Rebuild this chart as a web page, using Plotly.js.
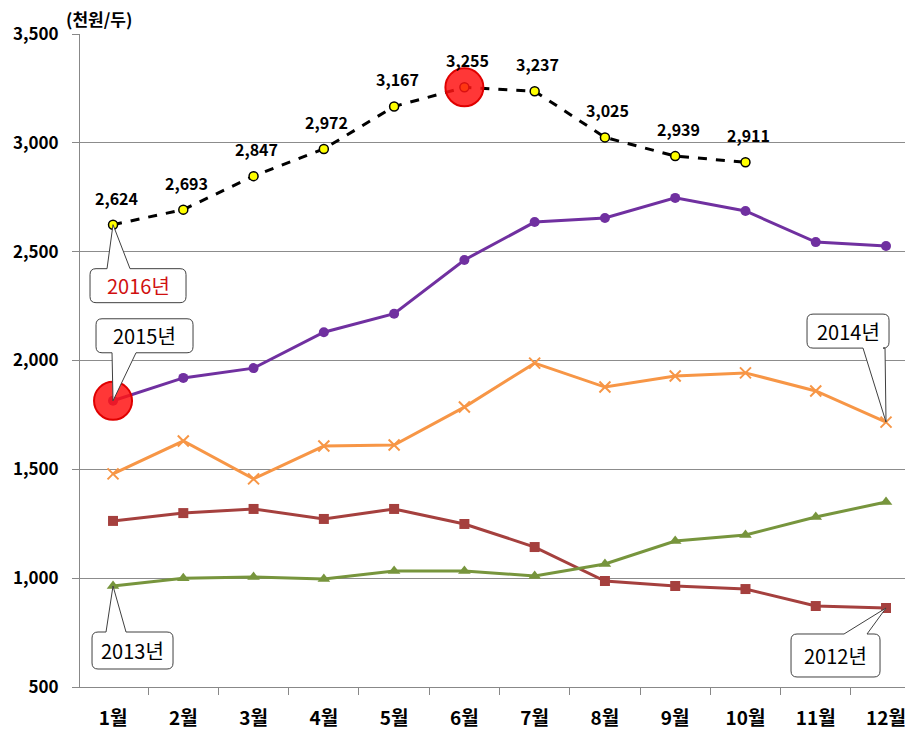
<!DOCTYPE html>
<html>
<head>
<meta charset="utf-8">
<script src="https://cdn.plot.ly/plotly-3.0.1.min.js"></script>
<style>html,body{margin:0;padding:0;background:#fff;}#chart{width:905px;height:742px;}</style>
</head>
<body>
<div id="chart"></div>
<script>
// ---- data ----
const months = ['1월','2월','3월','4월','5월','6월','7월','8월','9월','10월','11월','12월'];
const y2016 = [2624, 2693, 2847, 2972, 3167, 3255, 3237, 3025, 2939, 2911];
const y2015 = [1815, 1920, 1965, 2130, 2215, 2462, 2636, 2655, 2747, 2687, 2544, 2526];
const y2014 = [1479, 1630, 1456, 1607, 1612, 1786, 1988, 1878, 1929, 1943, 1860, 1717];
const y2013 = [964, 1000, 1005, 996, 1033, 1033, 1010, 1065, 1171, 1198, 1281, 1350];
const y2012 = [1263, 1299, 1318, 1272, 1318, 1249, 1143, 987, 964, 950, 872, 863];
const yTicks = [500, 1000, 1500, 2000, 2500, 3000, 3500];
const unitLabel = '(천원/두)';
const seriesNames = ['2012년', '2013년', '2014년', '2015년', '2016년'];

const numFont = 'Liberation Sans Narrow, Noto Sans CJK KR, sans-serif';
const krFont = 'Noto Sans CJK KR, Liberation Sans Narrow, sans-serif';

const traces = [
  {x: months, y: y2012, name: seriesNames[0], mode: 'lines+markers',
   line: {color: '#A5403E', width: 3}, marker: {symbol: 'square', size: 10, color: '#A5403E'}},
  {x: months, y: y2013, name: seriesNames[1], mode: 'lines+markers',
   line: {color: '#77953D', width: 3}, marker: {symbol: 'triangle-up', size: 11, color: '#77953D'}},
  {x: months, y: y2014, name: seriesNames[2], mode: 'lines+markers',
   line: {color: '#F79646', width: 3}, marker: {symbol: 'x-thin', size: 11, color: '#F79646', line: {color: '#F79646', width: 2}}},
  {x: months, y: y2015, name: seriesNames[3], mode: 'lines+markers',
   line: {color: '#7030A0', width: 3}, marker: {symbol: 'circle', size: 10, color: '#7030A0'}},
  {x: months.slice(0, y2016.length), y: y2016, name: seriesNames[4], mode: 'lines+markers',
   line: {color: '#000000', width: 3, dash: 'dash'},
   marker: {symbol: 'circle', size: 9, color: '#FFFF00', line: {color: '#000', width: 1.5}}},
  // highlight circles
  {x: [months[0], months[5]], y: [y2015[0], y2016[5]], mode: 'markers', hoverinfo: 'skip',
   marker: {symbol: 'circle', size: 38, color: 'rgba(255,20,20,0.85)', line: {color: '#E00000', width: 2}}}
];

// speech bubble path in pixel coords relative to anchor (screen y down, converted to up)
function bubble(x0, y0, x1, y1, b0, b1, side) {
  const r = 6;
  const P = (x, y) => x + ',' + (-y);
  let d = 'M' + P(x0 + r, y0);
  if (side === 'top') d += ' L' + P(b0, y0) + ' L' + P(0, 0) + ' L' + P(b1, y0);
  d += ' L' + P(x1 - r, y0) + ' Q' + P(x1, y0) + ' ' + P(x1, y0 + r);
  d += ' L' + P(x1, y1 - r) + ' Q' + P(x1, y1) + ' ' + P(x1 - r, y1);
  if (side === 'bottom') d += ' L' + P(b1, y1) + ' L' + P(0, 0) + ' L' + P(b0, y1);
  d += ' L' + P(x0 + r, y1) + ' Q' + P(x0, y1) + ' ' + P(x0, y1 - r);
  d += ' L' + P(x0, y0 + r) + ' Q' + P(x0, y0) + ' ' + P(x0 + r, y0) + ' Z';
  return d;
}

const callouts = [
  {x: months[0], y: y2016[0], box: [-23, 44, 73, 78], base: [-6, 17], side: 'top', text: seriesNames[4], color: '#D01010'},
  {x: months[0], y: y2015[0], box: [-17, -82, 80, -48], base: [-1, 23], side: 'bottom', text: seriesNames[3], color: '#000'},
  {x: months[11], y: y2014[11], box: [-79, -108, 3, -74], base: [-23, -1], side: 'bottom', text: seriesNames[2], color: '#000'},
  {x: months[0], y: y2013[0], box: [-21, 46, 60, 83], base: [-7, 13], side: 'top', text: seriesNames[1], color: '#000'},
  {x: months[11], y: y2012[11], box: [-95, 26, -6, 69], base: [-42, -19], side: 'top', text: seriesNames[0], color: '#000'}
];

const shapes = callouts.map(c => ({
  type: 'path', xref: 'x', yref: 'y', xsizemode: 'pixel', ysizemode: 'pixel',
  xanchor: c.x, yanchor: c.y, layer: 'above',
  path: bubble(c.box[0], c.box[1], c.box[2], c.box[3], c.base[0], c.base[1], c.side),
  fillcolor: '#FFFFFF', line: {color: '#404040', width: 1}
}));

const annotations = callouts.map(c => ({
  x: c.x, y: c.y, xref: 'x', yref: 'y', showarrow: false,
  xshift: (c.box[0] + c.box[2]) / 2, yshift: -(c.box[1] + c.box[3]) / 2,
  text: c.text, font: {family: numFont, size: 20, color: c.color}
}));

y2016.forEach((v, i) => annotations.push({
  x: months[i], y: v, xref: 'x', yref: 'y', showarrow: false, xshift: 3, yshift: 27,
  text: v.toLocaleString('en-US'), font: {family: numFont, size: 16, color: '#000', weight: 'bold'}
}));

annotations.push({
  x: (64 - 80) / 825, y: 1 + (34 - 18) / 653, xref: 'paper', yref: 'paper',
  xanchor: 'left', yanchor: 'middle', showarrow: false,
  text: '<b>' + unitLabel + '</b>', font: {family: krFont, size: 17, color: '#000'}
});

const layout = {
  width: 905, height: 742,
  margin: {l: 80, r: 0, t: 34, b: 55},
  paper_bgcolor: '#fff', plot_bgcolor: '#fff',
  showlegend: false,
  xaxis: {
    type: 'category', range: [-0.47, 11.27], tickson: 'boundaries',
    ticks: 'outside', ticklen: 7, tickcolor: '#888', showgrid: false,
    showline: true, linecolor: '#888', linewidth: 1,
    tickfont: {family: krFont, size: 19, color: '#000', weight: 'bold'},
    ticklabelstandoff: 14, fixedrange: true
  },
  yaxis: {
    range: [500, 3500], tickvals: yTicks, tickformat: ',d',
    ticks: 'outside', ticklen: 7, tickcolor: '#888',
    showgrid: true, gridcolor: '#8C8C8C', gridwidth: 1,
    showline: true, linecolor: '#888', linewidth: 1, zeroline: false,
    tickfont: {family: numFont, size: 17, color: '#000', weight: 'bold'},
    ticklabelstandoff: 10, fixedrange: true
  },
  shapes: shapes,
  annotations: annotations
};

Plotly.newPlot('chart', traces, layout, {displayModeBar: false, staticPlot: true});
</script>
</body>
</html>
